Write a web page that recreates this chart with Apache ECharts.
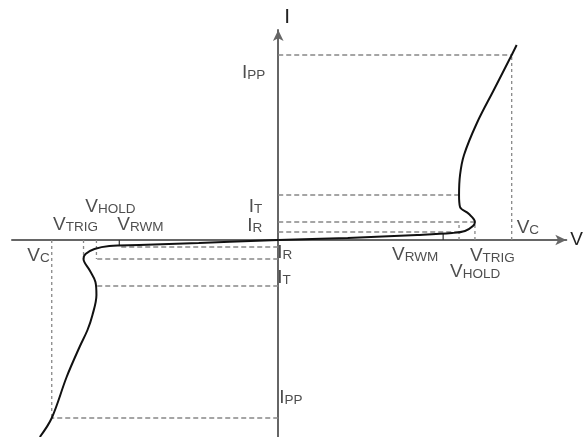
<!DOCTYPE html>
<html>
<head>
<meta charset="utf-8">
<script src="https://cdn.jsdelivr.net/npm/echarts@6/dist/echarts.min.js"></script>
<style>
  html, body { margin: 0; padding: 0; background: #fff; }
  #chart { width: 586px; height: 437px; }
</style>
</head>
<body>
<div id="chart"></div>
<script>
// I-V curve of a TVS diode (schematic units)
// forward / positive branch
const posCurveV = [0, 7, 14, 17.5, 18.8, 19.6, 19.8, 19.2, 18.3, 18.2, 18.3, 18.7, 20, 21.7, 23.5, 24];
const posCurveI = [0, 1, 2.5, 3.5, 4.5, 7, 9, 13, 16.5, 22.5, 32.5, 42.5, 58.5, 75, 92.5, 97.5];
// negative branch
const negCurveV = [0, -8, -14, -17, -18.5, -19.4, -19.6, -19, -18.4, -18.3, -18.7, -19.2, -20, -21.3, -22.8, -24];
const negCurveI = [0, -1.5, -2.5, -3, -4.5, -7, -9.5, -15, -21, -27.5, -37.5, -45, -53.5, -68.5, -89, -98.5];

// voltage marks: RWM, HOLD, TRIG, C
const posVolts = [16.6, 18.2, 19.8, 23.5];
const negVolts = [-16.0, -18.3, -19.6, -22.8];
// current levels: R, TRIG, T, PP
const posLevels = [4, 9, 22.5, 92.5];
const negLevels = [-3.5, -9.5, -23, -89];

const [pRWM, pHOLD, pTRIG, pC] = posVolts;
const [nRWM, nHOLD, nTRIG, nC] = negVolts;
const [pIR, pITRIG, pIT, pIPP] = posLevels;
const [nIR, nITRIG, nIT, nIPP] = negLevels;

const zip = (xs, ys) => xs.map((x, i) => [x, ys[i]]);

// dashed guide lines
const guides = [
  [[0, pIPP], [pC, pIPP]],
  [[pC, 0], [pC, pIPP]],
  [[0, pIT], [pHOLD, pIT]],
  [[0, pITRIG], [pTRIG, pITRIG]],
  [[0, pIR], [pHOLD, pIR]],
  [[pTRIG, 0], [pTRIG, pITRIG]],
  [[pHOLD, 0], [pHOLD, pITRIG]],
  [[0, nIPP], [nC, nIPP]],
  [[nC, 0], [nC, nIPP]],
  [[0, nIT], [nHOLD, nIT]],
  [[0, nITRIG], [nHOLD, nITRIG]],
  [[0, nIR], [nRWM, nIR]],
  [[nTRIG, 0], [nTRIG, nITRIG]],
  [[nHOLD, 0], [nHOLD, nITRIG]]
];
// short solid ticks for V_RWM
const ticks = [
  [[pRWM, 0], [pRWM, 3]],
  [[nRWM, 0], [nRWM, -3]]
];

// text labels: [anchor, text, align, offset]
const labels = [
  [[0, pIPP], 'I{s|PP}', 'right', [-13, 18]],
  [[0, pIT], 'I{s|T}', 'right', [-16, 12]],
  [[0, pITRIG], 'I{s|R}', 'right', [-16, 4]],
  [[pRWM, 0], 'V{s|RWM}', 'right', [-5, 15]],
  [[pTRIG, 0], 'V{s|TRIG}', 'left', [-5, 16]],
  [[pHOLD, 0], 'V{s|HOLD}', 'left', [-9, 32]],
  [[pC, 0], 'V{s|C}', 'left', [5, -12]],
  [[nC, 0], 'V{s|C}', 'right', [-2, 16]],
  [[nTRIG, 0], 'V{s|TRIG}', 'center', [-8, -15]],
  [[nHOLD, 0], 'V{s|HOLD}', 'center', [14, -33]],
  [[nRWM, 0], 'V{s|RWM}', 'left', [-2, -15]],
  [[0, nIR], 'I{s|R}', 'left', [-1, 6]],
  [[0, nIT], 'I{s|T}', 'left', [-1, -8]],
  [[0, nIPP], 'I{s|PP}', 'left', [1, -20]]
];

const textColor = '#222';
const rich = {
  s: { fontSize: 13.5, color: textColor, fontFamily: 'Liberation Sans', verticalAlign: 'bottom' }
};

const segSeries = (segs, dash) => segs.map(seg => ({
  type: 'line',
  data: seg,
  symbol: 'none',
  silent: true,
  z: 2,
  lineStyle: dash
    ? { color: '#888', width: 1.3, type: seg[0][0] === seg[1][0] ? [3, 3] : [5, 3] }
    : { color: '#333', width: 1.2 }
}));

const chart = echarts.init(document.getElementById('chart'), null, { renderer: 'canvas' });
chart.setOption({
  animation: false,
  backgroundColor: '#fff',
  grid: { left: 12, right: 16, top: 30, bottom: 0 },
  xAxis: {
    type: 'value',
    min: -26.8,
    max: 29,
    name: 'V',
    nameLocation: 'end',
    nameGap: 4,
    nameTextStyle: { fontSize: 19, color: textColor, fontFamily: 'Liberation Sans' },
    splitLine: { show: false },
    axisTick: { show: false },
    axisLabel: { show: false },
    axisLine: {
      onZero: true,
      symbol: ['none', 'arrow'],
      symbolSize: [8, 11],
      lineStyle: { color: '#666', width: 2 }
    }
  },
  yAxis: {
    type: 'value',
    min: -98.5,
    max: 105,
    name: 'I',
    nameLocation: 'end',
    nameGap: 2,
    nameTextStyle: {
      fontSize: 21, color: textColor, fontFamily: 'Liberation Sans',
      align: 'left', verticalAlign: 'bottom', padding: [0, 0, 0, 6]
    },
    splitLine: { show: false },
    axisTick: { show: false },
    axisLabel: { show: false },
    axisLine: {
      onZero: true,
      symbol: ['none', 'arrow'],
      symbolSize: [8, 11],
      lineStyle: { color: '#666', width: 2 }
    }
  },
  series: [
    ...segSeries(guides, true),
    ...segSeries(ticks, false),
    {
      type: 'line',
      data: zip(posCurveV, posCurveI),
      symbol: 'none',
      smooth: 0.35,
      z: 5,
      lineStyle: { color: '#111', width: 2 }
    },
    {
      type: 'line',
      data: zip(negCurveV, negCurveI),
      symbol: 'none',
      smooth: 0.35,
      z: 5,
      lineStyle: { color: '#111', width: 2 }
    },
    {
      type: 'scatter',
      symbolSize: 0,
      z: 6,
      data: labels.map(([pos, text, align, off]) => ({
        value: pos,
        label: {
          show: true,
          formatter: text,
          position: off,
          align: align,
          verticalAlign: 'middle',
          fontSize: 19,
          color: textColor,
          fontFamily: 'Liberation Sans',
          rich: rich
        }
      }))
    }
  ]
});
</script>
</body>
</html>
